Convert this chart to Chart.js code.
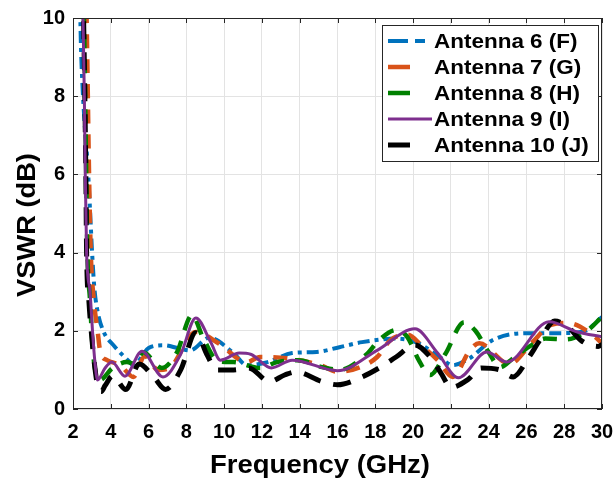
<!DOCTYPE html>
<html lang="en">
<head>
<meta charset="UTF-8">
<title>VSWR</title>
<script src="https://cdn.jsdelivr.net/npm/chart.js"></script>
<style>
    html, body { margin: 0; padding: 0; background: #fff; }
</style>
</head>
<body>
<canvas id="vswrChart" width="616" height="483"></canvas>
<script>
    // values
    const freqF = [2.35, 2.42, 2.51, 2.63, 2.78, 2.9, 3.0, 3.13, 3.3, 3.6, 4.2, 4.9, 5.2, 6.0, 6.8, 7.6, 8.2, 9.2, 10.5, 11.2, 12.3, 13.6, 14.9, 16.1, 17.3, 19.1, 20.2, 21.4, 22.1, 23.0, 24.2, 26.0, 27.8, 29.0, 30];
    const vswrF = [11, 9.3, 8.2, 7.2, 6.2, 5.1, 4.1, 3.1, 2.5, 2.0, 1.6, 1.25, 1.12, 1.56, 1.63, 1.55, 1.5, 1.82, 1.43, 1.12, 1.2, 1.43, 1.46, 1.58, 1.71, 1.8, 1.7, 1.33, 1.12, 1.3, 1.76, 1.94, 1.94, 1.98, 2.35];

    const freqG = [2.65, 2.72, 2.85, 2.94, 3.1, 3.3, 3.45, 3.8, 4.5, 5.2, 5.8, 6.5, 7.1, 8.5, 9.7, 11.2, 11.9, 13.3, 15.1, 16.0, 17.2, 18.1, 18.8, 19.7, 20.5, 21.3, 22.1, 23.0, 23.5, 25.1, 26.3, 27.3, 28.2, 29.5, 30];
    const vswrG = [11.5, 10, 6, 4, 2.8, 2.0, 1.45, 1.25, 1.12, 0.82, 1.35, 1.0, 1.05, 1.97, 1.68, 1.2, 1.33, 1.3, 1.12, 0.95, 1.07, 1.33, 1.76, 1.9, 1.6, 1.25, 0.82, 1.5, 1.68, 1.15, 1.7, 2.15, 2.2, 1.9, 1.68];

    const freqH = [2.5, 2.58, 2.7, 2.76, 2.9, 3.05, 3.4, 4.1, 4.85, 5.3, 5.7, 6.7, 7.5, 8.3, 8.9, 9.7, 10.5, 11.9, 12.8, 13.9, 15.2, 16.1, 17.5, 18.2, 19.1, 19.7, 20.3, 20.9, 21.7, 22.7, 23.3, 24.0, 24.6, 25.3, 26.3, 27.0, 28.1, 29.2, 30];
    const vswrH = [11.5, 10, 6, 4, 2.8, 1.5, 0.74, 1.05, 1.2, 1.15, 1.45, 1.05, 1.45, 2.4, 1.8, 1.22, 1.2, 1.05, 1.2, 1.25, 1.07, 1.0, 1.38, 1.76, 2.02, 1.84, 1.25, 0.87, 1.4, 2.22, 2.0, 1.45, 1.07, 1.3, 1.64, 1.8, 1.78, 2.0, 2.36];

    const freqI = [2.48, 2.53, 2.6, 2.65, 2.72, 2.9, 3.04, 3.16, 3.3, 3.7, 4.06, 4.75, 5.65, 6.76, 7.7, 8.5, 9.3, 9.8, 10.8, 11.4, 12.5, 13.6, 16.0, 18.1, 20.1, 21.3, 22.4, 23.9, 24.96, 27.2, 28.7, 30];
    const vswrI = [11.5, 10, 8, 6, 4, 3.0, 1.94, 1.2, 0.74, 1.05, 1.2, 0.84, 1.48, 0.82, 1.4, 2.33, 1.7, 1.25, 1.43, 1.4, 1.05, 1.25, 0.98, 1.5, 2.05, 1.43, 0.8, 1.46, 1.2, 2.23, 1.97, 1.85];

    const freqJ = [2.5, 2.56, 2.68, 2.72, 2.85, 3.0, 3.1, 3.3, 3.5, 3.7, 4.1, 4.8, 5.5, 6.3, 6.9, 7.7, 8.5, 9.1, 9.6, 10.5, 11.3, 12.4, 13.2, 13.8, 15.2, 16.0, 17.3, 18.2, 19.1, 20.1, 20.9, 21.5, 22.0, 22.9, 23.6, 24.6, 25.3, 26.1, 26.7, 27.5, 28.2, 28.9, 29.8, 30];
    const vswrJ = [11.5, 10, 6, 4, 2.7, 1.8, 1.3, 0.6, 0.45, 0.6, 0.85, 0.5, 1.15, 0.8, 0.5, 1.0, 1.95, 1.38, 1.0, 1.0, 1.05, 0.7, 0.87, 0.95, 0.7, 0.62, 0.82, 1.05, 1.33, 1.64, 1.33, 0.9, 0.55, 0.75, 1.05, 1.0, 0.82, 1.3, 1.75, 2.25, 2.1, 1.75, 1.6, 1.65];

    const seriesNames = ['Antenna 6 (F)', 'Antenna 7 (G)', 'Antenna 8 (H)', 'Antenna 9 (I)', 'Antenna 10 (J)'];
    const xTicks = [2, 4, 6, 8, 10, 12, 14, 16, 18, 20, 22, 24, 26, 28, 30];
    const yTicks = [0, 2, 4, 6, 8, 10];
    const xTitle = 'Frequency (GHz)';
    const yTitle = 'VSWR (dB)';

    const FONT = "'Liberation Sans', Arial, sans-serif";

    function pts(xs, ys) {
        return xs.map((x, i) => ({ x: x, y: ys[i] }));
    }

    // cada serie: cor, espessura, tracejado e tracejado da legenda
    const estilos = [
        { color: '#0072BD', width: 4, dash: [12, 5, 4, 5], legDash: [20, 7, 10, 40], order: 4 },
        { color: '#D95319', width: 4.5, dash: [14, 11], legDash: [22, 40], order: 3 },
        { color: '#008000', width: 4.5, dash: [14, 11], legDash: [22, 40], order: 2 },
        { color: '#7E2F8E', width: 3, dash: [], legDash: [], order: 0 },
        { color: '#000000', width: 5, dash: [18, 13], legDash: [22, 40], order: 1 }
    ];
    const dados = [pts(freqF, vswrF), pts(freqG, vswrG), pts(freqH, vswrH), pts(freqI, vswrI), pts(freqJ, vswrJ)];

    const datasets = dados.map((d, i) => ({
        label: seriesNames[i],
        data: d,
        borderColor: estilos[i].color,
        borderWidth: estilos[i].width,
        borderDash: estilos[i].dash,
        pointRadius: 0,
        fill: false,
        cubicInterpolationMode: 'monotone',
        clip: 0,
        order: estilos[i].order
    }));

    // moldura do eixo com ticks para dentro (estilo MATLAB)
    const moldura = {
        id: 'moldura',
        afterDatasetsDraw(chart) {
            const { ctx, chartArea: a, scales: { x, y } } = chart;
            ctx.save();
            ctx.strokeStyle = '#262626';
            ctx.lineWidth = 1;
            ctx.strokeRect(a.left + 0.5, a.top + 0.5, a.right - a.left - 1, a.bottom - a.top - 1);
            ctx.beginPath();
            xTicks.forEach(v => {
                const px = Math.round(x.getPixelForValue(v)) + 0.5;
                ctx.moveTo(px, a.bottom); ctx.lineTo(px, a.bottom - 5);
                ctx.moveTo(px, a.top); ctx.lineTo(px, a.top + 5);
            });
            yTicks.forEach(v => {
                const py = Math.round(y.getPixelForValue(v)) + 0.5;
                ctx.moveTo(a.left, py); ctx.lineTo(a.left + 5, py);
                ctx.moveTo(a.right, py); ctx.lineTo(a.right - 5, py);
            });
            ctx.stroke();

            // titulos dos eixos (um pouco esticados, como no original)
            ctx.fillStyle = '#000';
            ctx.font = 'bold 25px ' + FONT;
            ctx.textAlign = 'center';
            ctx.textBaseline = 'middle';
            ctx.save();
            ctx.translate(320, 466);
            ctx.scale(1.1, 1);
            ctx.fillText(xTitle, 0, 0);
            ctx.restore();
            ctx.save();
            ctx.translate(28, 225);
            ctx.rotate(-Math.PI / 2);
            ctx.scale(1.09, 1);
            ctx.fillText(yTitle, 0, 0);
            ctx.restore();
            ctx.restore();
        }
    };

    // legenda dentro do grafico, canto superior direito
    const legenda = {
        id: 'legenda',
        afterDraw(chart) {
            const ctx = chart.ctx;
            const bx = 382, by = 25, bw = 216, bh = 136;
            ctx.save();
            ctx.fillStyle = '#fff';
            ctx.fillRect(bx, by, bw, bh);
            ctx.strokeStyle = '#262626';
            ctx.lineWidth = 1;
            ctx.strokeRect(bx + 0.5, by + 0.5, bw, bh);
            ctx.font = 'bold 21px ' + FONT;
            ctx.textBaseline = 'middle';
            ctx.textAlign = 'left';
            chart.data.datasets.forEach((ds, i) => {
                const cy = by + 16 + i * 26;
                ctx.strokeStyle = ds.borderColor;
                ctx.lineWidth = ds.borderWidth;
                ctx.setLineDash(estilos[i].legDash);
                ctx.beginPath();
                ctx.moveTo(388, cy);
                ctx.lineTo(432, cy);
                ctx.stroke();
                ctx.setLineDash([]);
                ctx.fillStyle = '#000';
                ctx.save();
                ctx.translate(434, cy + 1);
                ctx.scale(1.07, 1);
                ctx.fillText(ds.label, 0, 0);
                ctx.restore();
            });
            ctx.restore();
        }
    };

    new Chart(document.getElementById('vswrChart').getContext('2d'), {
        type: 'line',
        data: { datasets: datasets },
        options: {
            responsive: false,
            animation: false,
            layout: { padding: { top: 18, right: 14, left: 0, bottom: 0 } },
            plugins: { legend: { display: false }, tooltip: { enabled: false } },
            scales: {
                x: {
                    type: 'linear',
                    min: 2, max: 30,
                    afterFit: s => { s.height = 74; s.paddingLeft = 0; s.paddingRight = 0; },
                    afterBuildTicks: s => { s.ticks = xTicks.map(v => ({ value: v })); },
                    ticks: { color: '#000', font: { family: FONT, size: 20, weight: 'bold' }, padding: 11, maxRotation: 0 },
                    grid: { color: '#e3e3e3', drawTicks: false },
                    border: { display: false }
                },
                y: {
                    min: 0, max: 10,
                    afterFit: s => { s.width = 73; s.paddingTop = 0; s.paddingBottom = 0; },
                    afterBuildTicks: s => { s.ticks = yTicks.map(v => ({ value: v })); },
                    ticks: { color: '#000', font: { family: FONT, size: 20, weight: 'bold' }, padding: 8 },
                    grid: { color: '#e3e3e3', drawTicks: false },
                    border: { display: false }
                }
            }
        },
        plugins: [moldura, legenda]
    });
</script>
</body>
</html>
